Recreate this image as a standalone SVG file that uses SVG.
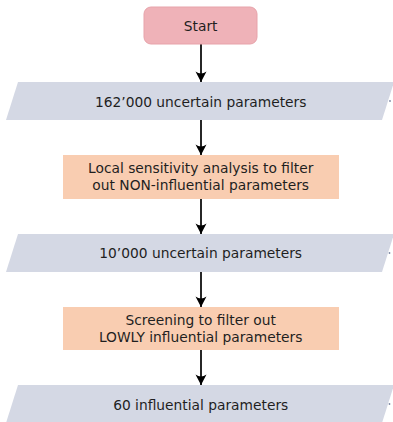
<svg xmlns="http://www.w3.org/2000/svg" width="393" height="422" viewBox="0 0 393 422">
  <style>
    .start { fill: #efb2b8; stroke: #e7a3aa; stroke-width: 1; }
    .data { fill: #d4d8e4; }
    .proc { fill: #f9cdb1; }
    .label { font-family: "DejaVu Sans", "Liberation Sans", sans-serif; font-size: 13.8px; fill: #1f1f1f; text-anchor: middle; }
    .edge { stroke: #000; stroke-width: 1.7; fill: none; marker-end: url(#head); }
    .tick { fill: #7d87a3; }
  </style>
  <defs>
    <marker id="head" markerUnits="userSpaceOnUse" markerWidth="14" markerHeight="14" viewBox="-11 -7 12 14" refX="0" refY="0" orient="auto">
      <path d="M0,0 L-10.5,-5.5 Q-6.5,0 -10.5,5.5 Z" fill="#000"/>
    </marker>
  </defs>

  <!-- connectors -->
  <g id="edges">
    <path class="edge" d="M201,44 V82"/>
    <path class="edge" d="M201,120 V155"/>
    <path class="edge" d="M201,199 V234"/>
    <path class="edge" d="M201,272 V307"/>
    <path class="edge" d="M201,350 V385"/>
  </g>

  <g id="start">
    <rect class="start" x="144" y="7" width="113" height="37" rx="7"/>
    <text class="label" x="200.7" y="30.5">Start</text>
  </g>

  <g id="params-162000">
    <polygon class="data" points="18,82 394,82 382,120 6,120"/>
    <circle class="tick" cx="390" cy="101" r="0.9"/>
    <text class="label" x="200.7" y="106.5">162’000 uncertain parameters</text>
  </g>

  <g id="local-sensitivity">
    <rect class="proc" x="63" y="155" width="276" height="44"/>
    <text class="label" x="200.7" y="173.3">Local sensitivity analysis to filter</text>
    <text class="label" x="200.7" y="190.3">out NON-influential parameters</text>
  </g>

  <g id="params-10000">
    <polygon class="data" points="18,234 394,234 382,272 6,272"/>
    <circle class="tick" cx="389.5" cy="253" r="0.9"/>
    <text class="label" x="200.7" y="258">10’000 uncertain parameters</text>
  </g>

  <g id="screening">
    <rect class="proc" x="63" y="307" width="276" height="43"/>
    <text class="label" x="200.7" y="324.5">Screening to filter out</text>
    <text class="label" x="200.7" y="341.5">LOWLY influential parameters</text>
  </g>

  <g id="params-60">
    <polygon class="data" points="18,385 394,385 382,423 6,423"/>
    <circle class="tick" cx="389.5" cy="404" r="0.9"/>
    <text class="label" x="200.7" y="409.5">60 influential parameters</text>
  </g>
</svg>
